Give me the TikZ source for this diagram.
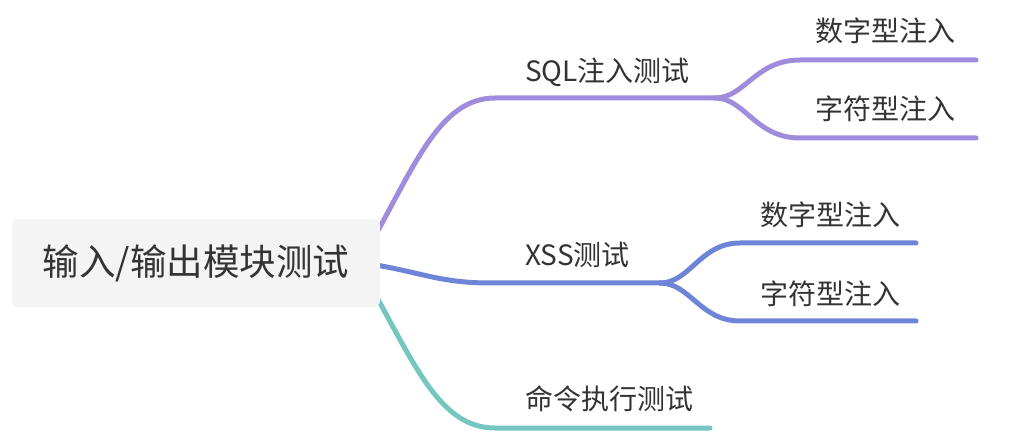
\documentclass[tikz,border=0pt]{standalone}
\usepackage{fontspec}
\setmainfont{Noto Sans CJK SC}
\definecolor{cpurple}{HTML}{A08CDC}
\definecolor{cblue}{HTML}{6E84D6}
\definecolor{cteal}{HTML}{76C6C0}
\definecolor{ctext}{HTML}{333333}
\definecolor{crootfill}{HTML}{F4F4F4}
\begin{document}
\begin{tikzpicture}[x=1pt,y=-1pt,
  rootbox/.style={fill=crootfill, rounded corners=6pt, minimum width=368pt, minimum height=88pt, inner sep=0pt, text=ctext, font=\fontsize{36.5}{40}\selectfont},
  lbl/.style={anchor=west, inner sep=0pt, text=ctext, font=\fontsize{28}{32}\selectfont, text height=0.83em, text depth=0.07em},
  branch/.style={line width=5pt, line cap=round}]
\useasboundingbox (0,0) rectangle (1009,443);
% anchor points
\coordinate (sqlS) at (370,245);
\coordinate (sqlA) at (495,98);
\coordinate (sqlB) at (715,98);
\coordinate (sqlC1) at (800,60);
\coordinate (sqlC1e) at (976,60);
\coordinate (sqlC2) at (800,138);
\coordinate (sqlC2e) at (976,138);
\coordinate (xssS) at (370,264);
\coordinate (xssA) at (490,283);
\coordinate (xssB) at (660,283);
\coordinate (xssC1) at (740,243);
\coordinate (xssC1e) at (916,243);
\coordinate (xssC2) at (740,321);
\coordinate (xssC2e) at (916,321);
\coordinate (cmdS) at (370,285);
\coordinate (cmdA) at (495,428);
\coordinate (cmdB) at (710,428);
% branches
\draw[branch, cpurple] (sqlS) .. controls (415,165) and (440,98) .. (sqlA) -- (sqlB);
\draw[branch, cpurple] (sqlB) .. controls (745,98) and (755,60) .. (sqlC1) -- (sqlC1e);
\draw[branch, cpurple] (sqlB) .. controls (745,98) and (755,138) .. (sqlC2) -- (sqlC2e);
\draw[branch, cblue] (xssS) .. controls (420,272) and (440,283) .. (xssA) -- (xssB);
\draw[branch, cblue] (xssB) .. controls (690,283) and (700,243) .. (xssC1) -- (xssC1e);
\draw[branch, cblue] (xssB) .. controls (690,283) and (700,321) .. (xssC2) -- (xssC2e);
\draw[branch, cteal] (cmdS) .. controls (415,365) and (440,428) .. (cmdA) -- (cmdB);
% root
\node[rootbox] (root) at (196,263) {\raisebox{-3pt}{输入/输出模块测试}};
% labels
\node[lbl] (sql) at (525,78) {SQL注入测试};
\node[lbl] (sqlnum) at (815,38) {数字型注入};
\node[lbl] (sqlchr) at (815,116) {字符型注入};
\node[lbl] (xss) at (525,262) {XSS测试};
\node[lbl] (xssnum) at (760,222) {数字型注入};
\node[lbl] (xsschr) at (760,301) {字符型注入};
\node[lbl] (cmd) at (525,406) {命令执行测试};
\end{tikzpicture}
\end{document}
